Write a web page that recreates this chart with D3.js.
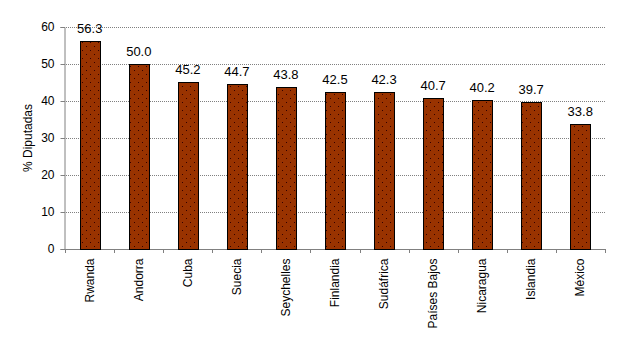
<!DOCTYPE html>
<html>
<head>
<meta charset="utf-8">
<script src="https://cdn.jsdelivr.net/npm/d3@7"></script>
<style>
  body { margin: 0; background: #fff; }
  svg text { font-family: "Liberation Sans", Arial, sans-serif; fill: #000; }
</style>
</head>
<body>
<svg id="chart" width="619" height="351"></svg>
<script>
// Data
const paises = ["Rwanda", "Andorra", "Cuba", "Suecia", "Seychelles", "Finlandia", "Sudáfrica", "Países Bajos", "Nicaragua", "Islandia", "México"];
const valores = [56.3, 50.0, 45.2, 44.7, 43.8, 42.5, 42.3, 40.7, 40.2, 39.7, 33.8];
const yTicks = [0, 10, 20, 30, 40, 50, 60];

const svg = d3.select("#chart");
const margin = { top: 27, right: 14, bottom: 102, left: 64 };
const width = 619, height = 351;

// dotted fill pattern
const defs = svg.append("defs");
const pat = defs.append("pattern")
  .attr("id", "dots")
  .attr("patternUnits", "userSpaceOnUse")
  .attr("width", 8).attr("height", 8);
pat.append("rect").attr("width", 8).attr("height", 8).attr("fill", "#993300");
pat.append("rect").attr("x", 2).attr("y", 2).attr("width", 1).attr("height", 1).attr("fill", "#330000");
pat.append("rect").attr("x", 6).attr("y", 6).attr("width", 1).attr("height", 1).attr("fill", "#330000");

const x = d3.scaleBand()
  .domain(paises)
  .range([margin.left + 1, width - margin.right])
  .paddingInner(0.59)
  .paddingOuter(0.3);

const y = d3.scaleLinear()
  .domain([0, 60])
  .range([height - margin.bottom, margin.top]);

// grid lines
svg.append("g")
  .selectAll("line")
  .data(yTicks.filter(d => d > 0))
  .join("line")
  .attr("x1", margin.left)
  .attr("x2", width - margin.right)
  .attr("y1", d => Math.round(y(d)) + 0.5)
  .attr("y2", d => Math.round(y(d)) + 0.5)
  .attr("stroke", "#808080")
  .attr("stroke-dasharray", "1,1");

// y axis
const yAxis = svg.append("g")
  .attr("transform", `translate(${margin.left + 0.5},0)`)
  .call(d3.axisLeft(y).tickValues(yTicks).tickSize(4).tickPadding(6).tickFormat(d3.format("d")));
yAxis.select(".domain").attr("stroke", "#808080");
yAxis.selectAll(".tick line").attr("stroke", "#808080");
yAxis.selectAll("text").style("font-size", "12px");

// x axis
const xAxis = svg.append("g")
  .attr("transform", `translate(0,${height - margin.bottom + 0.5})`)
  .call(d3.axisBottom(x).tickSize(0).tickFormat(d => d));
xAxis.select(".domain").remove();
svg.append("line")
  .attr("x1", margin.left).attr("x2", width - margin.right)
  .attr("y1", height - margin.bottom + 0.5).attr("y2", height - margin.bottom + 0.5)
  .attr("stroke", "#808080");
// category boundary ticks
const plotW = width - margin.right - margin.left - 1;
svg.append("g").selectAll("line")
  .data(d3.range(paises.length + 1))
  .join("line")
  .attr("x1", i => Math.round(margin.left + 1 + i * plotW / paises.length) + 0.5)
  .attr("x2", i => Math.round(margin.left + 1 + i * plotW / paises.length) + 0.5)
  .attr("y1", height - margin.bottom)
  .attr("y2", height - margin.bottom + 4)
  .attr("stroke", "#808080");

xAxis.selectAll("text")
  .style("font-size", "12px")
  .attr("text-anchor", "end")
  .attr("transform", "rotate(-90)")
  .attr("x", -9)
  .attr("y", 0)
  .attr("dy", "0.35em");

// bars
svg.append("g")
  .selectAll("rect")
  .data(valores)
  .join("rect")
  .attr("x", (d, i) => Math.round(x(paises[i])) + 0.5)
  .attr("width", Math.round(x.bandwidth()))
  .attr("y", d => Math.round(y(d)) + 0.5)
  .attr("height", d => Math.round(y(0)) - Math.round(y(d)))
  .attr("fill", "url(#dots)")
  .attr("stroke", "#000")
  .attr("stroke-width", 1);

// value labels
svg.append("g")
  .selectAll("text")
  .data(valores)
  .join("text")
  .attr("x", (d, i) => x(paises[i]) + x.bandwidth() / 2)
  .attr("y", d => y(d) - 8)
  .attr("text-anchor", "middle")
  .style("font-size", "13px")
  .text(d => d.toFixed(1));

// y label
svg.append("text")
  .attr("transform", `translate(32,${(y(0) + y(60)) / 2}) rotate(-90)`)
  .attr("text-anchor", "middle")
  .style("font-size", "12px")
  .text("% Diputadas");
</script>
</body>
</html>
